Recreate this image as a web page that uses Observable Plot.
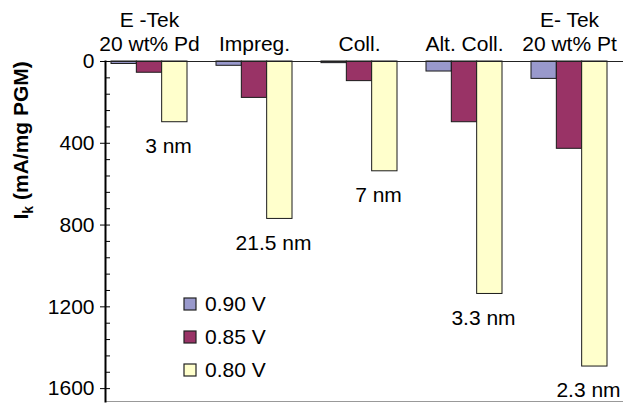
<!DOCTYPE html>
<html><head><meta charset="utf-8">
<script src="https://cdn.jsdelivr.net/npm/d3@7"></script>
<script src="https://cdn.jsdelivr.net/npm/@observablehq/plot@0.6"></script>
<style>
body{margin:0;background:#fff}
#wrap{position:relative;width:623px;height:403px;font-family:"Liberation Sans",Arial,sans-serif}
#legend{position:absolute;left:184px;top:287px}
#legend [class$="-swatch"]{display:flex;align-items:center;height:33px;padding:0;font-size:21px;color:#000;font-family:"Liberation Sans",Arial,sans-serif}
#legend [class$="-swatch"] svg{margin-right:9px;overflow:visible}
#legend [class$="-swatch"] svg rect{stroke:#222;stroke-width:1.2px}
</style></head><body><div id="wrap"></div>
<script>
const groups = ["E -Tek\n20 wt% Pd", "Impreg.", "Coll.", "Alt. Coll.", "E- Tek\n20 wt% Pt"];
const series = ["0.90 V", "0.85 V", "0.80 V"];
const colors = ["#9999CC", "#993366", "#FFFFCC"];
const v090 = [12, 21, 8, 49, 85];
const v085 = [55, 178, 96, 297, 427];
const v080 = [297, 770, 537, 1137, 1492];
const sizes = ["3 nm", "21.5 nm", "7 nm", "3.3 nm", "2.3 nm"];
const majorTicks = [0, 400, 800, 1200, 1600];
const yLabelParts = ["I", "k", " (mA/mg PGM)"];

const valuesBySeries = [v090, v085, v080];
const rows = groups.flatMap((g, i) => series.map((s, j) => ({group: g, series: s, value: valuesBySeries[j][i]})));
const notes = groups.map((g, i) => ({group: g, value: v080[i], label: sizes[i]}));
const minorTicks = d3.range(0, 1601, 80);
const yLabelText = yLabelParts.join("");

const nS = series.length;
const bandW = 76;
const barMarks = series.map((s, j) => Plot.barY(rows, {
  filter: d => d.series === s,
  x: "group", y: "value", fill: "series",
  stroke: "#1a1a1a", strokeWidth: 1,
  insetLeft: j * bandW / nS, insetRight: (nS - 1 - j) * bandW / nS
}));

const chart = Plot.plot({
  width: 623, height: 403,
  marginTop: 61, marginBottom: 2, marginLeft: 105, marginRight: 0,
  style: {fontFamily: "Liberation Sans, Arial, sans-serif", fontSize: "21px", color: "#000", background: "#fff"},
  x: {domain: groups, paddingInner: 0.28, paddingOuter: 0.0927, align: 0.29, axis: null, label: null},
  y: {domain: [0, 1663], reverse: true, axis: null, label: null},
  color: {domain: series, range: colors},
  marks: [
    ...barMarks,
    Plot.frame({anchor: "top", stroke: "#222"}),
    Plot.frame({anchor: "bottom", stroke: "#999"}),
    Plot.frame({anchor: "left", stroke: "#000", strokeWidth: 2}),
    Plot.axisX({anchor: "top", tickSize: 0, tickPadding: 11, fontSize: 21, lineHeight: 1.1, label: null}),
    Plot.axisY({ticks: majorTicks, tickSize: 5, tickPadding: 6, fontSize: 21, tickFormat: d => String(d), label: null}),
    Plot.axisY({ticks: minorTicks, tickSize: 5, dx: 5, text: null, label: null}),
    Plot.text(notes, {x: "group", y: "value", text: "label", dx: 19, dy: 24, fontSize: 21, lineAnchor: "middle"}),
    Plot.text([yLabelText], {frameAnchor: "left", rotate: -90, dx: -84, dy: -12, fontWeight: "bold", fontSize: 21, lineAnchor: "middle"})
  ]
});

// subscript for the "k" in the y-axis title
d3.select(chart).selectAll("text").filter(function () { return this.textContent === yLabelText; }).each(function () {
  const t = d3.select(this);
  t.text(null);
  t.append("tspan").text(yLabelParts[0]);
  t.append("tspan").attr("font-size", 14).attr("dy", 5).text(yLabelParts[1]);
  t.append("tspan").attr("dy", -5).text(yLabelParts[2]);
});

const legend = Plot.legend({
  color: {domain: series, range: colors},
  legend: "swatches", columns: 1, swatchSize: 12, className: "lg",
  style: {fontSize: "21px", fontFamily: "Liberation Sans, Arial, sans-serif", color: "#000"}
});
const wrap = document.getElementById("wrap");
wrap.appendChild(chart);
const lg = document.createElement("div");
lg.id = "legend";
lg.appendChild(legend);
wrap.appendChild(lg);
</script>
</body></html>
